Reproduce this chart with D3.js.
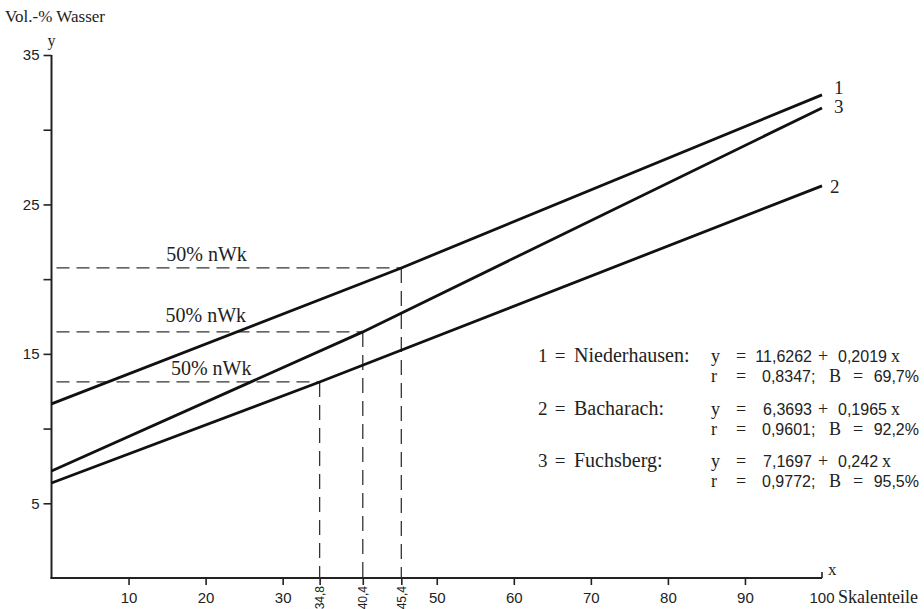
<!DOCTYPE html>
<html><head><meta charset="utf-8">
<script src="https://cdn.jsdelivr.net/npm/d3@7"></script>
<style>
body{margin:0;background:#fff;}
svg{display:block;}
text{font-family:"Liberation Serif","DejaVu Serif",serif;fill:#222;}
.num{font-family:"Liberation Sans","DejaVu Sans",sans-serif;}
</style></head>
<body>
<svg id="c" width="924" height="609"></svg>
<script>
// ---- data ----
const xTickValues = [10, 20, 30, 50, 60, 70, 80, 90];
const markX = [34.8, 40.4, 45.4];
const markLabels = ["34,8", "40,4", "45,4"];
const yTickValues = [5, 10, 15, 20, 25, 30, 35];
const yTickLabeled = [5, 15, 25, 35];

const seriesIds = ["1", "2", "3"];
const niederhausenX = [0, 45.4, 100];
const niederhausenY = [11.65, 20.75, 32.33];
const bacharachX = [0, 34.8, 100];
const bacharachY = [6.36, 13.12, 26.24];
const fuchsbergX = [0, 40.4, 100];
const fuchsbergY = [7.16, 16.47, 31.46];

// 50% nWk points (x, y) per series
const nwkX = [45.4, 40.4, 34.8];
const nwkY = [20.75, 16.47, 13.12];
const nwkLabel = "50% nWk";

const legendIds = ["1", "2", "3"];
const legendNames = ["Niederhausen:", "Bacharach:", "Fuchsberg:"];
const legendIntercept = ["11,6262", "6,3693", "7,1697"];
const legendSlope = ["0,2019", "0,1965", "0,242"];
const legendR = ["0,8347;", "0,9601;", "0,9772;"];
const legendB = ["69,7%", "92,2%", "95,5%"];

// ---- chart ----
const svg = d3.select("#c");
const x = d3.scaleLinear([0, 100], [51.5, 822]);
const y = d3.scaleLinear([0, 35], [578, 55]);

// axes
const xAxis = d3.axisBottom(x).tickValues(xTickValues.concat(markX))
  .tickSize(7).tickSizeOuter(0).tickFormat(d => markX.includes(d) ? "" : d);
const gx = svg.append("g").attr("transform", `translate(0,${y(0)})`).call(xAxis);
gx.select(".domain").remove();
gx.selectAll(".tick line").attr("stroke", "#222").attr("stroke-width", 1.6);
gx.selectAll(".tick text").attr("class", "num").attr("font-size", 15).attr("fill", "#222").attr("dy", "1.0em");

const yAxis = d3.axisLeft(y).tickValues(yTickValues).tickSize(8).tickSizeOuter(0)
  .tickFormat(d => yTickLabeled.includes(d) ? d : "");
const gy = svg.append("g").attr("transform", `translate(${x(0)},0)`).call(yAxis);
gy.select(".domain").remove();
gy.selectAll(".tick line").attr("stroke", "#222").attr("stroke-width", 1.6);
gy.selectAll(".tick text").attr("class", "num").attr("font-size", 15).attr("fill", "#222").attr("x", -12);

// axis lines
svg.append("line").attr("x1", x(0)).attr("x2", x(0)).attr("y1", y(0) + 1).attr("y2", y(35))
  .attr("stroke", "#222").attr("stroke-width", 2);
svg.append("line").attr("x1", x(0) - 1).attr("x2", x(100)).attr("y1", y(0)).attr("y2", y(0))
  .attr("stroke", "#222").attr("stroke-width", 2);
svg.append("line").attr("x1", x(100)).attr("x2", x(100)).attr("y1", y(0)).attr("y2", y(0) - 6)
  .attr("stroke", "#222").attr("stroke-width", 1.6);

// rotated special tick labels (kept fully inside the picture)
markX.forEach((v, i) => {
  svg.append("text").attr("class", "num").attr("font-size", 12)
    .attr("transform", `translate(${x(v)},${y(0) + 8}) rotate(-90)`)
    .attr("text-anchor", "end").attr("dy", "0.35em").text(markLabels[i]);
});

// axis titles
svg.append("text").attr("x", 5).attr("y", 22).attr("font-size", 17).text("Vol.-% Wasser");
svg.append("text").attr("x", x(0)).attr("y", 46).attr("font-size", 16).attr("text-anchor", "middle").text("y");
svg.append("text").attr("x", x(100) + 6).attr("y", y(0) - 3).attr("font-size", 17).text("x");
svg.append("text").attr("class", "num").attr("x", x(100)).attr("y", y(0) + 25).attr("font-size", 15)
  .attr("text-anchor", "middle").text("100");
svg.append("text").attr("x", x(100) + 16).attr("y", y(0) + 25).attr("font-size", 18).text("Skalenteile");

// dashed guides
nwkX.forEach((v, i) => {
  svg.append("line").attr("x1", x(0) + 5).attr("x2", x(v)).attr("y1", y(nwkY[i])).attr("y2", y(nwkY[i]))
    .attr("stroke", "#333").attr("stroke-width", 1.3).attr("stroke-dasharray", "13,7");
  svg.append("line").attr("x1", x(v)).attr("x2", x(v)).attr("y1", y(nwkY[i])).attr("y2", y(0))
    .attr("stroke", "#333").attr("stroke-width", 1.3).attr("stroke-dasharray", "15,8");
});
// 50% nWk labels
const nwkLabelX = [14.9, 14.8, 15.5];
const nwkLabelDy = [-7, -10, -7];
nwkX.forEach((v, i) => {
  svg.append("text").attr("x", x(nwkLabelX[i])).attr("y", y(nwkY[i]) + nwkLabelDy[i])
    .attr("font-size", 20).text(nwkLabel);
});

// series lines
const seriesX = [niederhausenX, bacharachX, fuchsbergX];
const seriesY = [niederhausenY, bacharachY, fuchsbergY];
const line = d3.line().x(d => x(d[0])).y(d => y(d[1]));
seriesIds.forEach((id, i) => {
  const pts = seriesX[i].map((v, j) => [v, seriesY[i][j]]);
  svg.append("path").attr("d", line(pts)).attr("fill", "none")
    .attr("stroke", "#111").attr("stroke-width", 2.8);
});
// line end labels
const endLabelDy = [-1, 7, 5];
seriesIds.forEach((id, i) => {
  const last = seriesY[i].length - 1;
  svg.append("text").attr("x", x(100) + (i === 1 ? 8 : 12)).attr("y", y(seriesY[i][last]) + endLabelDy[i])
    .attr("font-size", 19).text(id);
});

// legend
const legTop = [362, 415, 467];
legendNames.forEach((n, i) => {
  const b = legTop[i];
  svg.append("text").attr("x", 538).attr("y", b).attr("font-size", 19).text(legendIds[i]);
  svg.append("text").attr("x", 560).attr("y", b).attr("font-size", 19).attr("text-anchor", "middle").text("=");
  svg.append("text").attr("x", 574).attr("y", b).attr("font-size", 20).text(n);
  svg.append("text").attr("x", 711).attr("y", b).attr("font-size", 18).text("y");
  svg.append("text").attr("x", 741).attr("y", b).attr("font-size", 18).attr("text-anchor", "middle").text("=");
  svg.append("text").attr("class", "num").attr("x", 812).attr("y", b).attr("font-size", 16).attr("text-anchor", "end").text(legendIntercept[i]);
  svg.append("text").attr("x", 823).attr("y", b).attr("font-size", 18).attr("text-anchor", "middle").text("+");
  svg.append("text").attr("class", "num").attr("x", 838).attr("y", b).attr("font-size", 16).text(legendSlope[i]);
  const slopeW = 16 * (0.556 * (legendSlope[i].length - 1) + 0.278);
  svg.append("text").attr("x", 838 + slopeW + 4).attr("y", b).attr("font-size", 18).text("x");

  const r = b + 20;
  svg.append("text").attr("x", 711).attr("y", r).attr("font-size", 18).text("r");
  svg.append("text").attr("x", 741).attr("y", r).attr("font-size", 18).attr("text-anchor", "middle").text("=");
  svg.append("text").attr("class", "num").attr("x", 762).attr("y", r).attr("font-size", 16).text(legendR[i]);
  svg.append("text").attr("x", 829).attr("y", r).attr("font-size", 18).text("B");
  svg.append("text").attr("x", 858).attr("y", r).attr("font-size", 18).attr("text-anchor", "middle").text("=");
  svg.append("text").attr("class", "num").attr("x", 919).attr("y", r).attr("font-size", 16).attr("text-anchor", "end").text(legendB[i]);
});
</script>
</body></html>
